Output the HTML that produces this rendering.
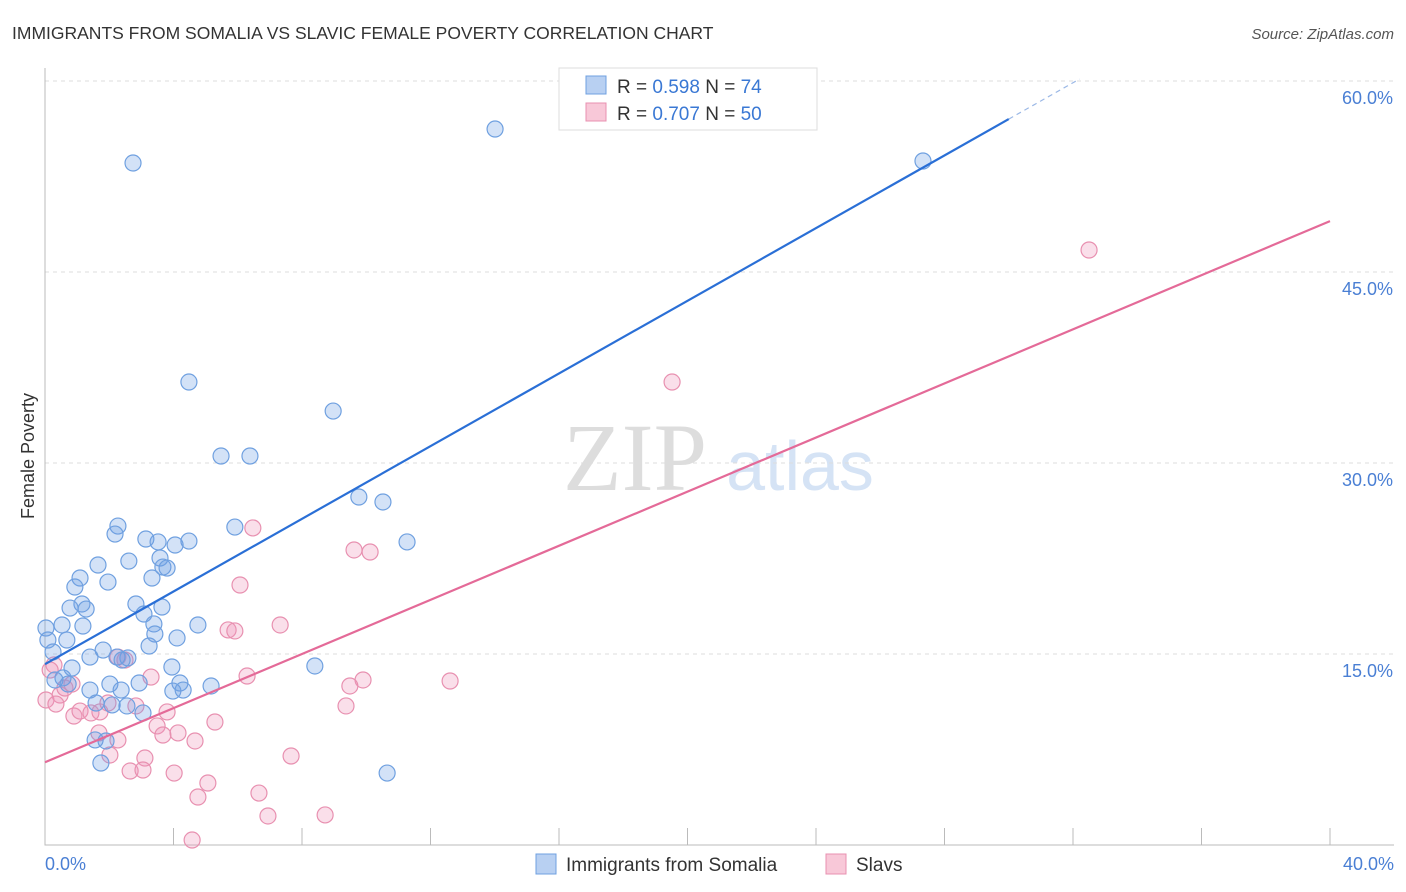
<!DOCTYPE html>
<html><head><meta charset="utf-8"><style>
body{margin:0;background:#fff;font-family:"Liberation Sans",sans-serif;}
svg{display:block}
</style></head><body>
<svg id="chart" width="1406" height="892">
<text x="12" y="39" font-size="17.5" fill="#333">IMMIGRANTS FROM SOMALIA VS SLAVIC FEMALE POVERTY CORRELATION CHART</text>
<text x="1394" y="39" font-size="15" fill="#555" font-style="italic" text-anchor="end">Source: ZipAtlas.com</text>
<text x="34" y="456" font-size="18" fill="#333" text-anchor="middle" transform="rotate(-90 34 456)">Female Poverty</text>
<g>
<text x="635" y="490" font-size="96" fill="#ddd" font-family="Liberation Serif,serif" text-anchor="middle">ZIP</text>
<text x="800" y="490" font-size="70" fill="#d5e3f5" text-anchor="middle">atlas</text>
</g>
<g id="grid"></g><g id="axes"></g><g id="pts"></g><g id="lines"></g>
<g>
<rect x="559" y="68" width="258" height="62" fill="#fff" stroke="#ddd"/>
<rect x="586" y="76" width="20" height="18" fill="#b8d0f2" stroke="#6fa0e0"/>
<rect x="586" y="103" width="20" height="18" fill="#f8c8d8" stroke="#e890b0"/>
<text x="617" y="93" font-size="19" fill="#333">R = <tspan fill="#3a78d4">0.598</tspan>   N = <tspan fill="#3a78d4">74</tspan></text>
<text x="617" y="120" font-size="19" fill="#333">R = <tspan fill="#3a78d4">0.707</tspan>   N = <tspan fill="#3a78d4">50</tspan></text>
</g>
<g>
<rect x="536" y="854" width="20" height="20" fill="#b8d0f2" stroke="#6fa0e0"/>
<text x="566" y="871" font-size="19" fill="#333">Immigrants from Somalia</text>
<rect x="826" y="854" width="20" height="20" fill="#f8c8d8" stroke="#e890b0"/>
<text x="856" y="871" font-size="19" fill="#333">Slavs</text>
</g>
</svg>
<script>
const yTicks=[15,30,45,60];
const xTickLabels=["0.0%","40.0%"];
const blueX=[2.74,14.01,27.33,4.48,5.48,6.38,8.97,9.77,10.52,11.27,5.91,2.27,2.18,3.14,3.52,4.48,4.05,2.61,3.58,1.65,3.67,3.80,3.33,1.09,1.96,0.93,2.83,3.64,1.15,0.78,1.28,3.08,3.39,4.76,0.53,0.03,1.18,3.42,4.11,0.68,3.24,0.25,1.81,1.40,2.58,2.24,2.40,3.95,8.40,0.84,0.56,4.20,2.93,2.02,5.17,1.40,2.37,3.98,4.30,1.59,2.09,2.55,3.05,1.56,1.90,1.74,10.65,0.09,0.31,0.72];
const blueY=[53.56,56.23,53.72,36.36,30.55,30.55,34.08,27.33,26.94,23.80,24.97,25.05,24.42,24.03,23.80,23.87,23.56,22.30,22.54,21.99,21.83,21.75,20.97,20.97,20.65,20.26,18.93,18.69,18.93,18.61,18.53,18.14,17.36,17.28,17.28,17.04,17.20,16.57,16.26,16.10,15.63,15.16,15.31,14.76,14.69,14.76,14.53,13.98,14.06,13.90,13.12,12.72,12.72,12.64,12.49,12.17,12.17,12.09,12.17,11.15,11.00,10.92,10.37,8.25,8.17,6.44,5.65,16.10,12.96,12.64];
const pinkX=[32.50,19.52,6.47,9.62,10.12,6.07,7.32,5.70,5.91,6.29,9.90,9.49,12.61,9.37,3.30,0.28,0.47,0.62,0.84,0.03,0.34,0.90,1.09,1.43,1.71,2.27,2.49,1.96,2.83,3.80,5.29,3.49,4.14,3.67,4.67,1.68,2.27,2.02,3.11,7.66,2.65,3.05,4.02,5.07,4.76,6.66,6.94,8.72,4.58,0.16];
const pinkY=[46.73,36.36,24.90,23.17,23.01,20.42,17.28,16.89,16.81,13.27,12.96,12.49,12.88,10.92,13.19,14.14,11.78,12.33,12.64,11.39,11.07,10.13,10.52,10.37,10.45,14.76,14.53,11.15,10.92,10.45,9.66,9.35,8.80,8.64,8.17,8.80,8.25,7.07,6.83,6.99,5.81,5.89,5.65,4.87,3.77,4.08,2.28,2.36,0.39,13.74];
const blueTrend=[14.2,1.427];
const pinkTrend=[6.5,1.0625];
const NS="http://www.w3.org/2000/svg";
const X=v=>45+v*32.125, Y=v=>845-v*12.733;
function mk(tag,attrs,parent){const e=document.createElementNS(NS,tag);for(const k in attrs)e.setAttribute(k,attrs[k]);document.getElementById(parent).appendChild(e);return e;}
yTicks.forEach(t=>{
 const l=mk('line',{x1:45,x2:1394,y1:Y(t),y2:Y(t),stroke:'#ddd','stroke-dasharray':'4,4'},'grid');
 
 
 const tx=mk('text',{x:1393,y:Y(t)+23,'font-size':18,fill:'#4a7fd4','text-anchor':'end'},'grid');
 tx.textContent=t.toFixed(1)+'%';
 
 
});
const ax=mk('path',{d:'M45 68V845H1394',fill:'none',stroke:'#bbb'},'axes');


for(let i=0;i<=10;i++){
 const t=mk('line',{x1:X(i*4),x2:X(i*4),y1:828,y2:845,stroke:'#bbb'},'axes');
 
 
}
[[0,'start',45],[40,'end',1394]].forEach((d,i)=>{
 const tx=mk('text',{x:d[2],y:870,'font-size':18,fill:'#4a7fd4','text-anchor':d[1]},'axes');
 tx.textContent=xTickLabels[i];
 
 
});
function pts(xs,ys,fill,stroke,name){xs.forEach((x,i)=>{
 const c=mk('circle',{cx:X(x),cy:Y(ys[i]),r:8,fill:fill,stroke:stroke,'stroke-width':1.2},'pts');
 
 
});}
pts(pinkX,pinkY,'rgba(240,150,185,0.3)','#e890b0','point-slavs');
pts(blueX,blueY,'rgba(110,160,230,0.3)','#6fa0e0','point-somalia');
const f=(tr,x)=>tr[0]+tr[1]*x;
let l1=mk('line',{x1:X(0),y1:Y(f(blueTrend,0)),x2:X(30),y2:Y(f(blueTrend,30)),stroke:'#2a6fd6','stroke-width':2.2},'lines');


let l2=mk('line',{x1:X(30),y1:Y(f(blueTrend,30)),x2:X(32.2),y2:Y(f(blueTrend,32.2)),stroke:'#9bb8e6','stroke-width':1.2,'stroke-dasharray':'5,4'},'lines');


let l3=mk('line',{x1:X(0),y1:Y(f(pinkTrend,0)),x2:X(40),y2:Y(f(pinkTrend,40)),stroke:'#e46a98','stroke-width':2.2},'lines');


</script>
</body></html>
